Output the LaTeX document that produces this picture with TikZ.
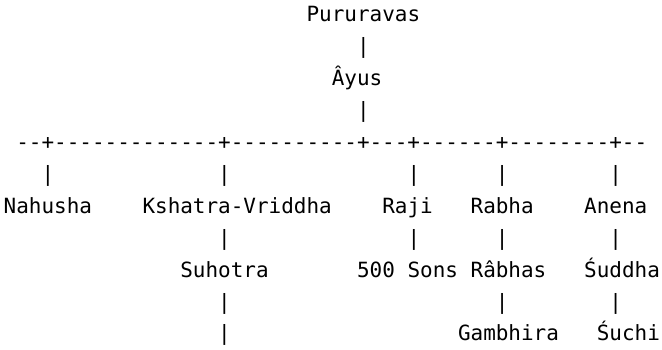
\documentclass[tikz,border=0pt]{standalone}
\usepackage{fontspec}
\newfontfamily\dvmono{DejaVu Sans Mono}
\newcommand{\cellat}[4]{\node[txt] (#1) at ({3.7+12.62*#2},{328-31.9*#3}) {#4};}
\begin{document}
\begin{tikzpicture}[x=1pt,y=1pt,
  txt/.style={inner sep=0pt,outer sep=0pt,anchor=base west,text=black,
    font=\dvmono\fontsize{20.96pt}{31.9pt}\selectfont}]
\useasboundingbox (0,0) rectangle (662,350);
% row 0-3
\cellat{pururavas}{24}{0}{Pururavas}
\cellat{v01}{28}{1}{|}
\cellat{ayus}{26}{2}{Âyus}
\cellat{v03}{28}{3}{|}
% row 4: branch line
\cellat{branch}{1}{4}{--+-------------+----------+---+------+--------+--}
% row 5
\cellat{v51}{3}{5}{|}
\cellat{v52}{17}{5}{|}
\cellat{v54}{32}{5}{|}
\cellat{v55}{39}{5}{|}
\cellat{v56}{48}{5}{|}
% row 6
\cellat{nahusha}{0}{6}{Nahusha}
\cellat{kshatra}{11}{6}{Kshatra-Vriddha}
\cellat{raji}{30}{6}{Raji}
\cellat{rabha}{37}{6}{Rabha}
\cellat{anena}{46}{6}{Anena}
% row 7
\cellat{v72}{17}{7}{|}
\cellat{v74}{32}{7}{|}
\cellat{v75}{39}{7}{|}
\cellat{v76}{48}{7}{|}
% row 8
\cellat{suhotra}{14}{8}{Suhotra}
\cellat{sons}{28}{8}{500 Sons}
\cellat{rabhas}{37}{8}{Râbhas}
\cellat{suddha}{46}{8}{Śuddha}
% row 9
\cellat{v92}{17}{9}{|}
\cellat{v95}{39}{9}{|}
\cellat{v96}{48}{9}{|}
% row 10
\cellat{v102}{17}{10}{|}
\cellat{gambhira}{36}{10}{Gambhira}
\cellat{suchi}{47}{10}{Śuchi}
\end{tikzpicture}
\end{document}
